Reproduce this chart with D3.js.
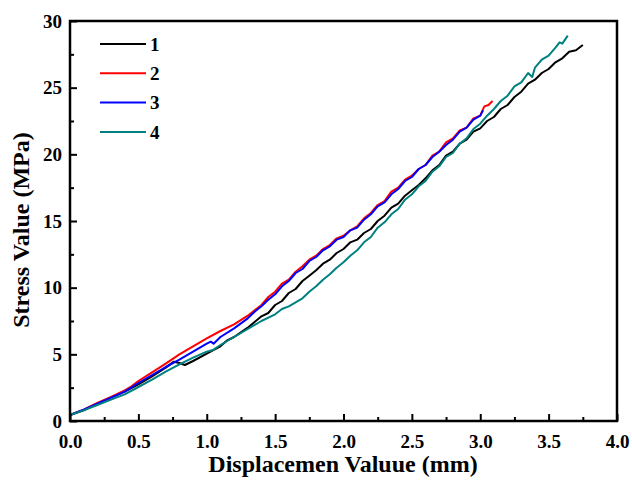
<!DOCTYPE html>
<html>
<head>
<meta charset="utf-8">
<script src="https://cdn.jsdelivr.net/npm/d3@7"></script>
<style>
  body { margin: 0; background: #fff; }
  text { font-family: "Liberation Serif", "Times New Roman", serif; font-weight: bold; }
</style>
</head>
<body>
<div id="chart"></div>
<script>
// series: [displacement mm, stress MPa]
const series1 = [[0,0.45],[0.1,0.8],[0.2,1.3],[0.3,1.75],[0.4,2.2],[0.5,2.75],[0.6,3.35],[0.7,4.0],[0.76,4.45],[0.8,4.35],[0.84,4.2],[0.9,4.5],[1.0,5.05],[1.1,5.6],[1.15,6.05],[1.2,6.3],[1.3,7.0],[1.4,7.85],[1.45,8.1],[1.5,8.7],[1.55,9.0],[1.6,9.6],[1.65,9.9],[1.7,10.5],[1.75,10.9],[1.8,11.3],[1.85,11.8],[1.9,12.1],[1.95,12.6],[2.0,12.9],[2.05,13.4],[2.1,13.6],[2.15,14.1],[2.2,14.4],[2.25,15.0],[2.3,15.4],[2.35,16.0],[2.4,16.3],[2.45,16.9],[2.5,17.3],[2.55,17.7],[2.6,18.2],[2.65,18.8],[2.7,19.2],[2.75,19.9],[2.8,20.2],[2.85,20.8],[2.9,21.1],[2.95,21.7],[3.0,21.95],[3.05,22.5],[3.1,22.8],[3.15,23.4],[3.2,23.7],[3.25,24.3],[3.3,24.7],[3.35,25.3],[3.4,25.6],[3.45,26.1],[3.5,26.4],[3.55,26.9],[3.6,27.2],[3.65,27.7],[3.7,27.8],[3.75,28.2]];
const series2 = [[0,0.45],[0.1,0.85],[0.2,1.35],[0.3,1.8],[0.4,2.3],[0.45,2.6],[0.5,3.0],[0.6,3.65],[0.7,4.3],[0.8,5.0],[0.9,5.6],[1.0,6.2],[1.1,6.75],[1.2,7.25],[1.3,7.9],[1.35,8.3],[1.4,8.7],[1.45,9.3],[1.5,9.7],[1.55,10.3],[1.6,10.6],[1.65,11.2],[1.7,11.6],[1.75,12.1],[1.8,12.4],[1.85,12.9],[1.9,13.2],[1.95,13.7],[2.0,13.9],[2.05,14.3],[2.1,14.6],[2.15,15.2],[2.2,15.6],[2.25,16.2],[2.3,16.5],[2.35,17.2],[2.4,17.5],[2.45,18.1],[2.5,18.4],[2.55,18.9],[2.6,19.2],[2.65,19.9],[2.7,20.2],[2.75,20.9],[2.8,21.2],[2.85,21.8],[2.9,22.0],[2.95,22.7],[3.0,22.9],[3.03,23.6],[3.06,23.7],[3.09,24.0]];
const series3 = [[0,0.45],[0.1,0.85],[0.2,1.3],[0.3,1.75],[0.4,2.2],[0.5,2.85],[0.6,3.45],[0.7,4.05],[0.8,4.6],[0.9,5.2],[1.0,5.8],[1.03,5.95],[1.05,5.8],[1.1,6.3],[1.2,6.95],[1.3,7.7],[1.35,8.2],[1.4,8.6],[1.45,9.1],[1.5,9.5],[1.55,10.1],[1.6,10.5],[1.65,11.1],[1.7,11.4],[1.75,12.0],[1.8,12.3],[1.85,12.8],[1.9,13.1],[1.95,13.6],[2.0,13.8],[2.05,14.3],[2.1,14.5],[2.15,15.1],[2.2,15.5],[2.25,16.1],[2.3,16.4],[2.35,17.0],[2.4,17.4],[2.45,18.0],[2.5,18.3],[2.55,18.9],[2.6,19.2],[2.65,19.8],[2.7,20.2],[2.75,20.7],[2.8,21.1],[2.85,21.7],[2.9,22.0],[2.95,22.6],[3.0,22.9],[3.02,23.3]];
const series4 = [[0,0.45],[0.1,0.8],[0.2,1.2],[0.3,1.6],[0.4,2.0],[0.5,2.55],[0.6,3.1],[0.7,3.7],[0.8,4.25],[0.9,4.75],[1.0,5.2],[1.05,5.35],[1.1,5.7],[1.2,6.3],[1.3,6.9],[1.4,7.5],[1.5,8.0],[1.55,8.4],[1.6,8.6],[1.65,8.9],[1.7,9.2],[1.75,9.7],[1.8,10.1],[1.85,10.6],[1.9,11.0],[1.95,11.5],[2.0,11.9],[2.05,12.4],[2.1,12.8],[2.15,13.4],[2.2,13.8],[2.25,14.5],[2.3,14.9],[2.35,15.5],[2.4,15.9],[2.45,16.6],[2.5,17.0],[2.55,17.6],[2.6,18.0],[2.65,18.7],[2.7,19.1],[2.75,19.8],[2.8,20.1],[2.85,20.8],[2.9,21.2],[2.95,21.9],[3.0,22.3],[3.05,22.9],[3.1,23.4],[3.15,24.0],[3.2,24.4],[3.25,25.1],[3.3,25.4],[3.35,26.1],[3.38,25.8],[3.4,26.5],[3.45,27.1],[3.5,27.4],[3.55,28.0],[3.58,28.4],[3.6,28.3],[3.64,28.9]];

const seriesNames = ["1", "2", "3", "4"];
const seriesColors = ["#000000", "#ff0000", "#0000ff", "#008080"];
const xTicks = [0, 0.5, 1.0, 1.5, 2.0, 2.5, 3.0, 3.5, 4.0];
const yTicks = [0, 5, 10, 15, 20, 25, 30];

const allSeries = [series1, series2, series3, series4];

let dimensions = {
  width: 632,
  height: 483,
  margin: { top: 21, right: 15, bottom: 62, left: 70 },
};
dimensions.boundedWidth = dimensions.width - dimensions.margin.left - dimensions.margin.right;
dimensions.boundedHeight = dimensions.height - dimensions.margin.top - dimensions.margin.bottom;

const wrapper = d3.select("#chart")
  .append("svg")
  .attr("width", dimensions.width)
  .attr("height", dimensions.height);

const bounds = wrapper.append("g")
  .attr("transform", `translate(${dimensions.margin.left},${dimensions.margin.top})`);

const xScale = d3.scaleLinear().domain([0, 4]).range([0, dimensions.boundedWidth]);
const yScale = d3.scaleLinear().domain([0, 30]).range([dimensions.boundedHeight, 0]);

// lines
const lineGenerator = d3.line()
  .x(d => xScale(d[0]))
  .y(d => yScale(d[1]));

bounds.selectAll(".curve")
  .data(allSeries)
  .join("path")
  .attr("class", "curve")
  .attr("d", lineGenerator)
  .attr("fill", "none")
  .attr("stroke", (d, i) => seriesColors[i])
  .attr("stroke-width", 2)
  .attr("stroke-linejoin", "round");

// minor ticks (inward)
const xMinor = d3.range(0.25, 4, 0.5);
const yMinor = d3.range(2.5, 30, 5);

const xAxis = bounds.append("g")
  .attr("transform", `translate(0,${dimensions.boundedHeight})`)
  .call(d3.axisBottom(xScale).tickValues(xTicks).tickFormat(d3.format(".1f")).tickSizeInner(-7).tickSizeOuter(0).tickPadding(14));
bounds.append("g")
  .attr("transform", `translate(0,${dimensions.boundedHeight})`)
  .call(d3.axisBottom(xScale).tickValues(xMinor).tickFormat("").tickSizeInner(-4).tickSizeOuter(0))
  .call(g => g.select(".domain").remove());

const yAxis = bounds.append("g")
  .call(d3.axisLeft(yScale).tickValues(yTicks).tickSizeInner(-7).tickSizeOuter(0).tickPadding(8));
bounds.append("g")
  .call(d3.axisLeft(yScale).tickValues(yMinor).tickFormat("").tickSizeInner(-4).tickSizeOuter(0))
  .call(g => g.select(".domain").remove());

bounds.selectAll(".tick line").attr("stroke", "#000").attr("stroke-width", 2);
bounds.selectAll(".tick text").attr("fill", "#000").style("font-size", "19px");

// frame
bounds.append("rect")
  .attr("width", dimensions.boundedWidth)
  .attr("height", dimensions.boundedHeight)
  .attr("fill", "none")
  .attr("stroke", "#000")
  .attr("stroke-width", 2.5);
bounds.selectAll(".domain").remove();

// axis labels
wrapper.append("text")
  .attr("x", 343)
  .attr("y", 472)
  .attr("text-anchor", "middle")
  .style("font-size", "24px")
  .text("Displacemen Valuue (mm)");

wrapper.append("text")
  .attr("transform", "translate(29,230) rotate(-90)")
  .attr("text-anchor", "middle")
  .style("font-size", "24px")
  .text("Stress Value (MPa)");

// legend
const legend = wrapper.append("g").attr("transform", "translate(100,44)");
const legendItem = legend.selectAll("g")
  .data(seriesNames)
  .join("g")
  .attr("transform", (d, i) => `translate(0,${i * 29.3})`);
legendItem.append("line")
  .attr("x1", 0).attr("x2", 46)
  .attr("stroke", (d, i) => seriesColors[i])
  .attr("stroke-width", 2);
legendItem.append("text")
  .attr("x", 50)
  .attr("dy", "0.35em")
  .style("font-size", "19px")
  .text(d => d);
</script>
</body>
</html>
